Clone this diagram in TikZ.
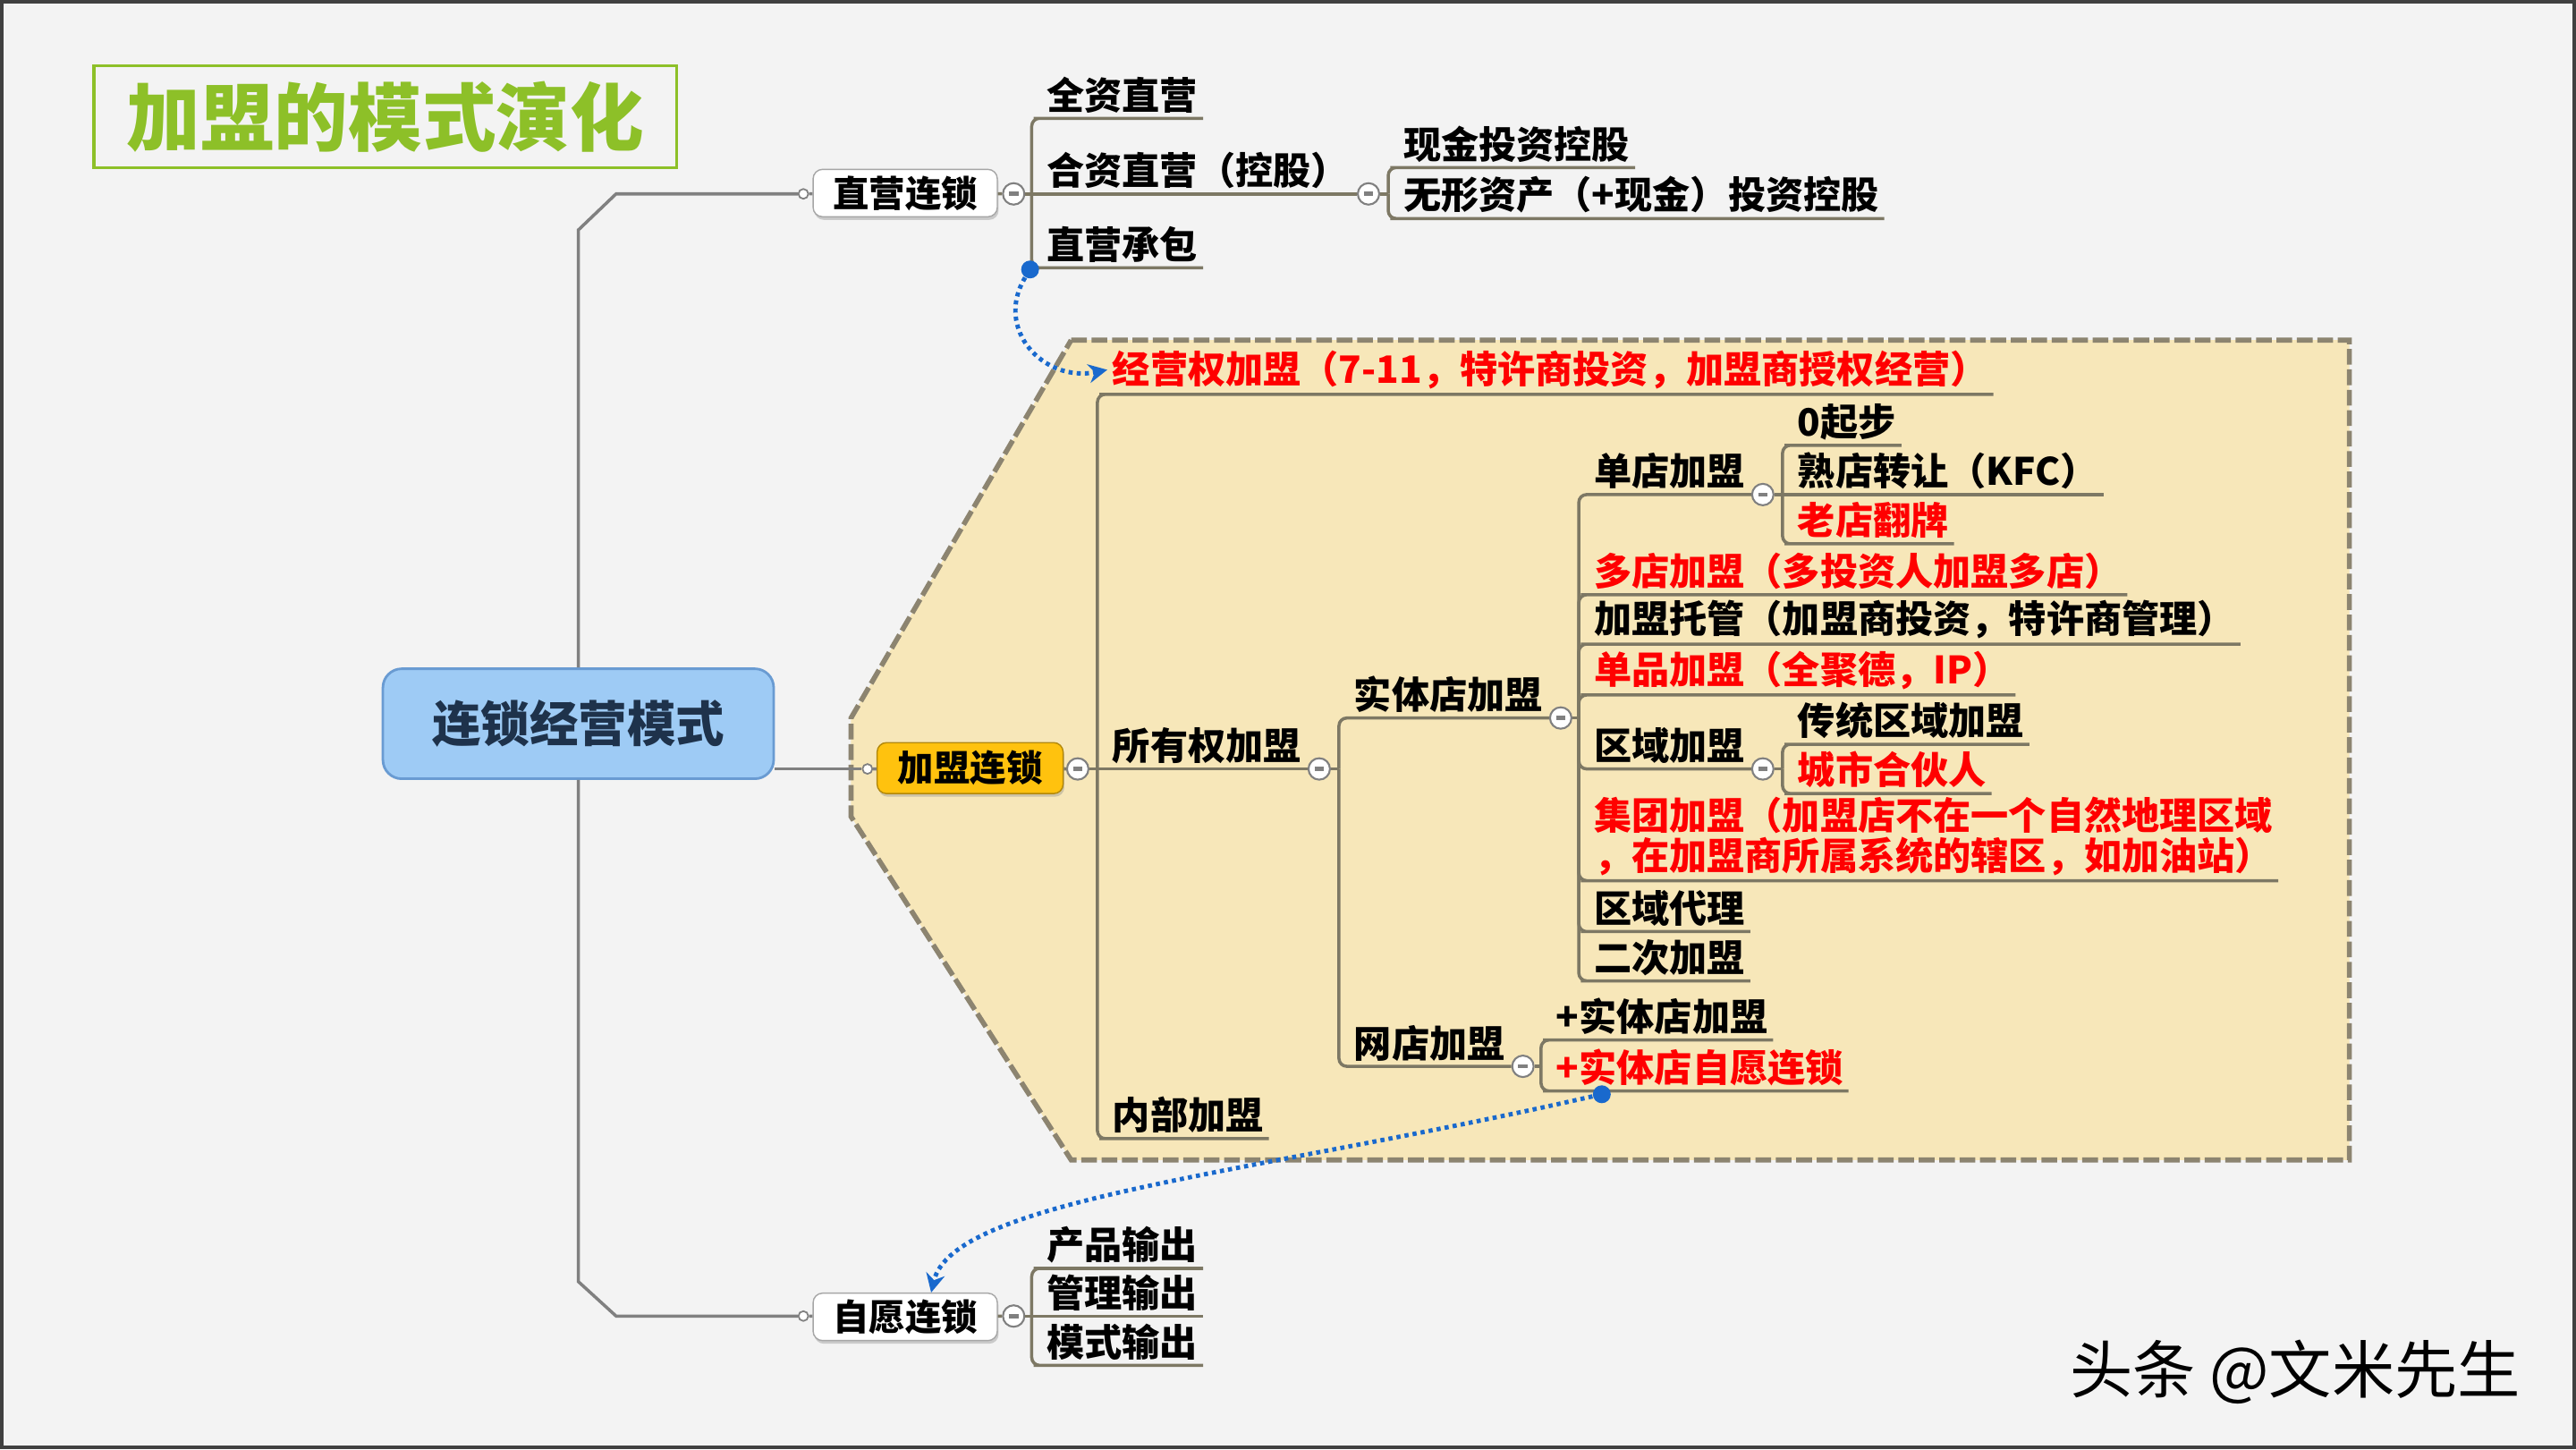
\documentclass[tikz,border=0pt]{standalone}
\usepackage{fontspec}
\newfontfamily\cjk{Noto Sans CJK SC}
\usepackage{tikz}
\usetikzlibrary{arrows.meta,positioning,shadows}

\definecolor{slidebg}{RGB}{243,243,243}
\definecolor{titlegreen}{RGB}{141,192,40}
\definecolor{rootblue}{RGB}{158,203,245}
\definecolor{rootline}{RGB}{105,155,210}
\definecolor{roottext}{RGB}{30,50,75}
\definecolor{gold}{RGB}{255,194,14}
\definecolor{areafill}{RGB}{247,231,185}
\definecolor{arealine}{RGB}{140,132,112}
\definecolor{linecol}{RGB}{125,120,100}
\definecolor{linkblue}{RGB}{25,105,205}

\tikzset{
  branch/.style={draw=linecol, line width=1pt, rounded corners=2.5pt},
  trunk/.style={draw=gray, line width=1pt},
  leaf/.style={anchor=south west, inner xsep=1.5pt, inner ysep=1.5pt,
    font=\cjk\bfseries\fontsize{12}{11}\selectfont, text=black},
  redleaf/.style={leaf, text=red},
  topic/.style={draw=gray!70, fill=white, rounded corners=3pt, minimum width=2.06cm,
    minimum height=0.53cm, inner sep=0pt, font=\cjk\bfseries\fontsize{11.5}{11}\selectfont,
    drop shadow={shadow xshift=0.4pt, shadow yshift=-1pt, opacity=0.35}},
  fold/.style={circle, draw=gray, fill=white, line width=0.6pt, minimum size=0.24cm, inner sep=0pt,
    path picture={\draw[line width=1.3pt] ([xshift=-1.5pt]path picture bounding box.center)
      -- ([xshift=1.5pt]path picture bounding box.center);}},
  port/.style={circle, draw=gray, fill=white, line width=0.5pt, minimum size=0.11cm, inner sep=0pt},
  linkdot/.style={circle, fill=linkblue, minimum size=0.2cm, inner sep=0pt},
  link/.style={draw=linkblue, line width=1.4pt, dash pattern=on 1.3pt off 1.3pt,
    -{Stealth[length=6pt,width=6pt]}}
}

\begin{document}
\begin{tikzpicture}[x=0.018367cm, y=-0.018367cm]
  \useasboundingbox (0,0) rectangle (1568,882);
% Slide background and frame
  \draw[fill=slidebg, draw=black!75, line width=1pt] (1,1) rectangle (1567,881);
% Title
  \node[draw=titlegreen, line width=1pt, minimum width=6.52cm, minimum height=1.14cm,
    text=titlegreen, font=\cjk\bfseries\fontsize{23.5}{23.5}\selectfont] (title) at (234.5,71) {加盟的模式演化};
% Franchise area outline
  \draw[fill=areafill, draw=arealine, line width=1.6pt, dash pattern=on 5pt off 1.5pt]
    (652,207) -- (1430,207) -- (1430,706) -- (652,706) -- (518,497) -- (518,437) -- cycle;

% Root topic
  \node[draw=rootline, fill=rootblue, rounded corners=6pt, minimum width=4.37cm, minimum height=1.23cm,
    line width=0.8pt, text=roottext, font=\cjk\bfseries\fontsize{15.5}{15.5}\selectfont] (root) at (352,440.5) {连锁经营模式};
% Main topics
  \node[topic] (zy) at (551,117.5) {直营连锁};
  \node[topic, fill=gold, draw=gold!70!black, minimum width=2.08cm, minimum height=0.57cm] (jm) at (590.5,467.5) {加盟连锁};
  \node[topic] (zl) at (551,801.5) {自愿连锁};
% Ports of main topics
  \node[port] (pZY) at (489,118) {};
  \node[port] (pJM) at (528,468) {};
  \node[port] (pZL) at (489,801) {};
% Trunk lines
  \draw[trunk] (root.north) -- (352,140) -- (375,118) -- (pZY);
  \draw[trunk] (root.south) -- (352,780) -- (375,801) -- (pZL);
  \draw[trunk] (root.east |- pJM) -- (pJM);
  \draw[trunk] (pZY) -- (zy);
  \draw[trunk] (pJM) -- (jm);
  \draw[trunk] (pZL) -- (zl);

% Fold markers
  \node[fold] (fZY) at (617,118) {};
  \node[fold] (fHZ) at (833,118) {};
  \node[fold] (fJM) at (656,468) {};
  \node[fold] (fSY) at (803,468) {};
  \node[fold] (fST) at (950,437) {};
  \node[fold] (fDD) at (1073,301) {};
  \node[fold] (fQY) at (1073,468) {};
  \node[fold] (fWD) at (927,649) {};
  \node[fold] (fZL) at (617,801) {};
% Bracket points
  \coordinate (bZY) at (628,118);
  \coordinate (bHZ) at (845,118);
  \coordinate (bJM) at (668,468);
  \coordinate (bSY) at (815,468);
  \coordinate (bST) at (961,437);
  \coordinate (bDD) at (1085,301);
  \coordinate (bQY) at (1085,468);
  \coordinate (bWD) at (938,649);
  \coordinate (bZL) at (628,801);

% Direct chain subtopics
  \node[leaf] (qzzy) at (634,72) {全资直营};
  \node[leaf] (hzzy) at (634,118) {合资直营（控股）};
  \node[leaf] (zycb) at (634,163) {直营承包};
  \node[leaf] (xjtz) at (851,102) {现金投资控股};
  \node[leaf] (wxzc) at (851,133) {无形资产（+现金）投资控股};
% Franchise chain subtopics
  \node[redleaf] (jyq) at (674,240) {经营权加盟（7-11，特许商投资，加盟商授权经营）};
  \node[leaf] (syq) at (674,468) {所有权加盟};
  \node[leaf] (nbjm) at (674,693) {内部加盟};
  \node[leaf] (stdjm) at (821,437) {实体店加盟};
  \node[leaf] (wdjm) at (821,649) {网店加盟};
% Physical store subtopics
  \node[leaf] (ddjm) at (967,301) {单店加盟};
  \node[redleaf] (duodian) at (967,362) {多店加盟（多投资人加盟多店）};
  \node[leaf] (tuoguan) at (967,392) {加盟托管（加盟商投资，特许商管理）};
  \node[redleaf] (danpin) at (967,423) {单品加盟（全聚德，IP）};
  \node[leaf] (qyjm) at (967,468) {区域加盟};
  \node[redleaf, align=left] (jituan) at (967,536) {集团加盟（加盟店不在一个自然地理区域\\，在加盟商所属系统的辖区，如加油站）};
  \node[leaf] (qydl) at (967,567) {区域代理};
  \node[leaf] (ercijm) at (967,597) {二次加盟};
% Single store subtopics
  \node[leaf] (qibu) at (1091,271) {0起步};
  \node[leaf] (shudian) at (1091,301) {熟店转让（KFC）};
  \node[redleaf] (laodian) at (1091,331) {老店翻牌};
% Regional subtopics
  \node[leaf] (chuantong) at (1091,453) {传统区域加盟};
  \node[redleaf] (hehuoren) at (1091,483) {城市合伙人};
% Online store subtopics
  \node[leaf] (jiastd) at (944,633) {+实体店加盟};
  \node[redleaf] (ziyuan) at (944,664) {+实体店自愿连锁};
% Voluntary chain subtopics
  \node[leaf] (cpsc) at (634,772) {产品输出};
  \node[leaf] (glsc) at (634,801) {管理输出};
  \node[leaf] (mssc) at (634,831) {模式输出};

% Direct chain branches
  \draw[branch] (zy) -- (fZY);
  \draw[branch] (fZY) -- (fHZ);
  \draw[branch] (bZY) |- (qzzy.south west) -- (qzzy.south east);
  \draw[branch] (bZY) |- (zycb.south west) -- (zycb.south east);
  \draw[branch] (fHZ) -- (bHZ);
  \draw[branch] (bHZ) |- (xjtz.south west) -- (xjtz.south east);
  \draw[branch] (bHZ) |- (wxzc.south west) -- (wxzc.south east);
% Franchise chain branches
  \draw[branch] (jm) -- (fJM);
  \draw[branch] (fJM) -- (fSY);
  \draw[branch] (bJM) |- (jyq.south west) -- (jyq.south east);
  \draw[branch] (bJM) |- (nbjm.south west) -- (nbjm.south east);
  \draw[branch] (fSY) -- (bSY);
  \draw[branch] (bSY) |- (fST);
  \draw[branch] (bSY) |- (fWD);
% Physical store branches
  \draw[branch] (fST) -- (bST);
  \draw[branch] (bST) |- (fDD);
  \draw[branch] (bST) |- (fQY);
  \draw[branch] (bST) |- (duodian.south west) -- (duodian.south east);
  \draw[branch] (bST) |- (tuoguan.south west) -- (tuoguan.south east);
  \draw[branch] (bST) |- (danpin.south west) -- (danpin.south east);
  \draw[branch] (bST) |- (jituan.south west) -- (jituan.south east);
  \draw[branch] (bST) |- (qydl.south west) -- (qydl.south east);
  \draw[branch] (bST) |- (ercijm.south west) -- (ercijm.south east);
% Single store branches
  \draw[branch] (fDD) -- (bDD);
  \draw[branch] (bDD) |- (qibu.south west) -- (qibu.south east);
  \draw[branch] (bDD) -- (shudian.south west) -- (shudian.south east);
  \draw[branch] (bDD) |- (laodian.south west) -- (laodian.south east);
% Regional branches
  \draw[branch] (fQY) -- (bQY);
  \draw[branch] (bQY) |- (chuantong.south west) -- (chuantong.south east);
  \draw[branch] (bQY) |- (hehuoren.south west) -- (hehuoren.south east);
% Online store branches
  \draw[branch] (fWD) -- (bWD);
  \draw[branch] (bWD) |- (jiastd.south west) -- (jiastd.south east);
  \draw[branch] (bWD) |- (ziyuan.south west) -- (ziyuan.south east);
% Voluntary chain branches
  \draw[branch] (zl) -- (fZL);
  \draw[branch] (fZL) -- (bZL);
  \draw[branch] (bZL) |- (cpsc.south west) -- (cpsc.south east);
  \draw[branch] (bZL) -- (glsc.south west) -- (glsc.south east);
  \draw[branch] (bZL) |- (mssc.south west) -- (mssc.south east);

% Relationship links
  \node[linkdot] (d1) at (627,164) {};
  \node[linkdot] (d2) at (975,666) {};
  \draw[link] (d1) .. controls (605,200) and (635,233) .. (jyq.west);
  \draw[link] (d2) .. controls (760,715) and (580,730) .. ([xshift=0.29cm]zl.north);

% Watermark
  \node[font=\cjk\fontsize{20}{20}\selectfont] (mark) at (1397,835) {头条 @文米先生};
\end{tikzpicture}
\end{document}
